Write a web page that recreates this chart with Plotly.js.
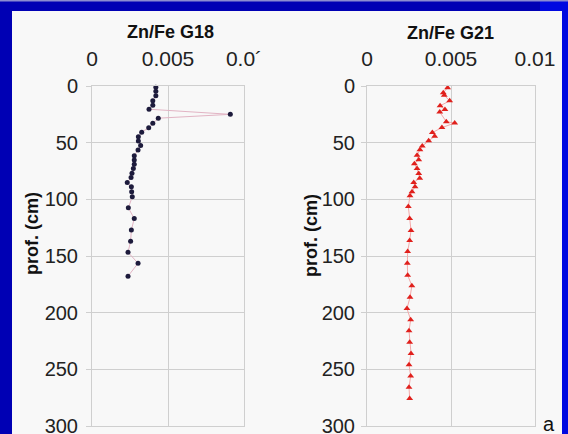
<!DOCTYPE html>
<html>
<head>
<meta charset="utf-8">
<script src="https://cdn.plot.ly/plotly-3.0.1.min.js"></script>
<style>html,body{margin:0;padding:0;background:#0000b4;}#chart{width:568px;height:434px;}</style>
</head>
<body>
<div id="chart"></div>
<script>
// ---- data ----
const depthG18 = [1,4.7,8.5,13,17,20.5,25,28.4,32.8,36.9,40.7,44.8,48.6,52.4,56.5,61.5,65.3,69,72.9,77,80.8,85.2,89,93.4,97.8,107.5,117,127,137,146.7,156.4,167.8];
const znfeG18 = [0.0042,0.0042,0.0042,0.0040,0.0040,0.00375,0.0091,0.00436,0.0040,0.00373,0.00327,0.00305,0.00305,0.0032,0.00303,0.00278,0.00278,0.00278,0.00272,0.00263,0.00257,0.00232,0.00259,0.00261,0.00265,0.00239,0.00278,0.00259,0.00254,0.00237,0.00303,0.00237];
const depthG21 = [1.5,5.9,8.2,13.1,17.5,20.7,23,31.5,32.7,36.7,41.1,44.3,48.4,53,56.3,61.2,65,68.5,72.9,77.3,81.3,85.1,88.9,93.3,96.8,106.4,116.9,127.4,136.4,146,156.5,167,176.2,186.5,196.4,206.3,215.9,226.1,236,246,255.9,265.7,275.7];
const znfeG21 = [0.0048,0.00454,0.0046,0.00492,0.00435,0.00464,0.00433,0.00472,0.00522,0.00446,0.00389,0.00403,0.00367,0.00329,0.00315,0.00298,0.00308,0.00282,0.00298,0.00308,0.00314,0.00278,0.00286,0.00268,0.00256,0.00246,0.00254,0.00262,0.00254,0.00242,0.0024,0.00242,0.00267,0.00256,0.00238,0.0026,0.0025,0.00254,0.00262,0.0025,0.0026,0.0025,0.00254];
const xTickVals = [0, 0.005, 0.01];
const xTickTextG18 = ['0', '0.005', '0.0\u00b4'];
const xTickTextG21 = ['0', '0.005', '0.01'];
const yTickVals = [0, 50, 100, 150, 200, 250, 300];
const titleG18 = 'Zn/Fe G18';
const titleG21 = 'Zn/Fe G21';
const yTitle = 'prof. (cm)';
const panelLetter = 'a';

const W = 568, H = 434;
const px = v => v / W;
const py = v => 1 - v / H;
const FONT = 'Liberation Sans, Arial, sans-serif';
const grid = '#cfcfcf';

const traces = [
  {x: znfeG18, y: depthG18, xaxis: 'x', yaxis: 'y', mode: 'lines+markers', cliponaxis: false,
   line: {color: '#e2b4c4', width: 1},
   marker: {symbol: 'circle', size: 5, color: '#1d1b3c'}},
  {x: znfeG21, y: depthG21, xaxis: 'x2', yaxis: 'y2', mode: 'lines+markers', cliponaxis: false,
   line: {color: '#f4a8a8', width: 1},
   marker: {symbol: 'triangle-up', size: 6, color: '#e0201c'}}
];

const xCommon = {range: [0, 0.01], tickvals: xTickVals, side: 'top', showgrid: true, gridcolor: grid,
  zeroline: false, showline: true, mirror: true, linecolor: grid, linewidth: 1, ticks: '',
  ticklabelstandoff: 11, ticklabeloverflow: 'allow',
  tickfont: {family: FONT, size: 21, color: '#222'}, fixedrange: true};
const yCommon = {range: [300, 0], tickvals: yTickVals, showgrid: true, gridcolor: grid,
  zeroline: false, showline: true, mirror: true, linecolor: grid, linewidth: 1,
  ticks: 'outside', ticklen: 5, tickcolor: grid, ticklabeloverflow: 'allow',
  tickfont: {family: FONT, size: 20, color: '#222'}, fixedrange: true};

const layout = {
  width: W, height: H,
  margin: {l: 0, r: 0, t: 0, b: 0},
  paper_bgcolor: '#0000b4',
  plot_bgcolor: 'rgba(0,0,0,0)',
  showlegend: false,
  font: {family: FONT, color: '#222'},
  xaxis: Object.assign({}, xCommon, {domain: [px(92), px(244)], anchor: 'y', ticktext: xTickTextG18}),
  yaxis: Object.assign({}, yCommon, {domain: [py(426), py(86)], anchor: 'x', ticklabelstandoff: 4}),
  xaxis2: Object.assign({}, xCommon, {domain: [px(367), px(535)], anchor: 'y2', ticktext: xTickTextG21}),
  yaxis2: Object.assign({}, yCommon, {domain: [py(426), py(86)], anchor: 'x2', ticklabelstandoff: 2}),
  shapes: [
    {type: 'rect', xref: 'paper', yref: 'paper', x0: px(540), x1: 1, y0: 0, y1: 1, fillcolor: '#0008e0', line: {width: 0}, layer: 'below'},
    {type: 'rect', xref: 'paper', yref: 'paper', x0: 0, x1: 1, y0: py(1.5), y1: 1, fillcolor: '#8c8cd0', line: {width: 0}, layer: 'below'},
    {type: 'rect', xref: 'paper', yref: 'paper', x0: px(12), x1: px(562), y0: 0, y1: py(11), fillcolor: '#f8f8f8', line: {width: 0}, layer: 'below'}
  ],
  annotations: [
    {text: '<b>' + titleG18 + '</b>', xref: 'paper', yref: 'paper', x: px(170), y: py(32), showarrow: false,
     font: {family: FONT, size: 18, color: '#111'}, xanchor: 'center', yanchor: 'middle'},
    {text: '<b>' + titleG21 + '</b>', xref: 'paper', yref: 'paper', x: px(450), y: py(33), showarrow: false,
     font: {family: FONT, size: 18, color: '#111'}, xanchor: 'center', yanchor: 'middle'},
    {text: '<b>' + yTitle + '</b>', xref: 'paper', yref: 'paper', x: px(32), y: py(234), showarrow: false, textangle: -90,
     font: {family: FONT, size: 18, color: '#111'}, xanchor: 'center', yanchor: 'middle'},
    {text: '<b>' + yTitle + '</b>', xref: 'paper', yref: 'paper', x: px(311), y: py(236), showarrow: false, textangle: -90,
     font: {family: FONT, size: 18, color: '#111'}, xanchor: 'center', yanchor: 'middle'},
    {text: panelLetter, xref: 'paper', yref: 'paper', x: px(549), y: py(424), showarrow: false,
     font: {family: FONT, size: 20, color: '#111'}, xanchor: 'center', yanchor: 'middle'}
  ]
};

Plotly.newPlot('chart', traces, layout, {staticPlot: true, displayModeBar: false});
</script>
</body>
</html>
